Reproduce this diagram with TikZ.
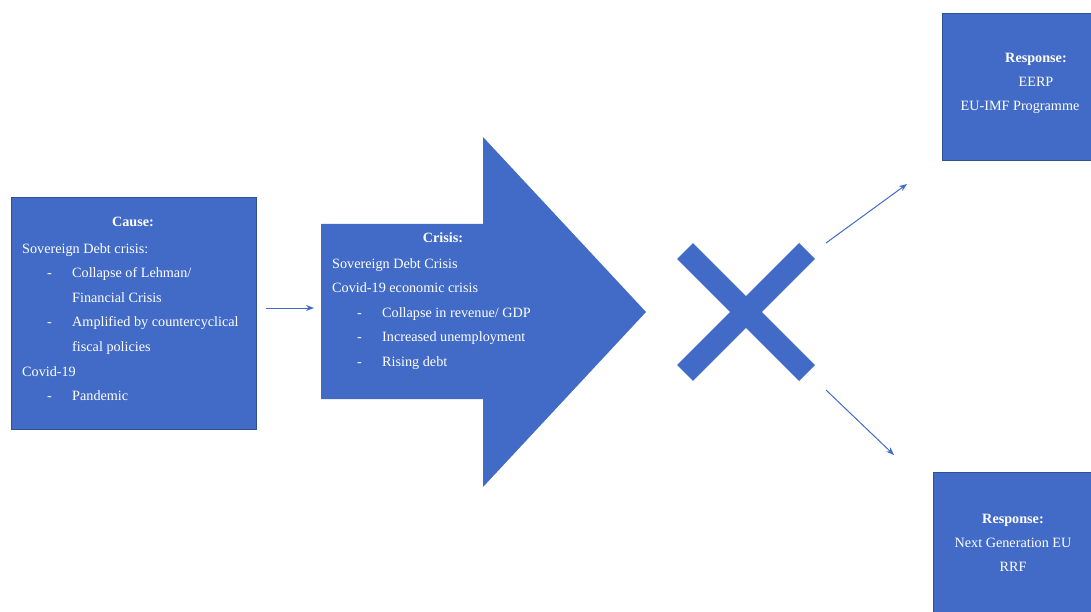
\documentclass[tikz,border=0pt]{standalone}
\usepackage{fontspec}
\setmainfont{Liberation Serif}
\usetikzlibrary{arrows.meta}
\definecolor{boxblue}{RGB}{66,107,199}
\definecolor{edgeblue}{RGB}{47,82,143}
\tikzset{
  bluebox/.style={fill=boxblue,draw=edgeblue,line width=0.8pt},
  txt/.style={text=white,inner sep=0pt,anchor=base west,font=\fontsize{14.2}{17}\selectfont},
  ctxt/.style={txt,anchor=base},
  htxt/.style={ctxt,font=\fontsize{14.2}{17}\selectfont\bfseries},
  conn/.style={draw=boxblue,line width=1pt,-{Stealth[length=8pt,width=6pt]}},
  cross/.style={draw=boxblue,line width=22.6pt}
}
\begin{document}
\begin{tikzpicture}[x=1pt,y=-1pt]
\useasboundingbox (0,0) rectangle (1091,612);
% Cause box
\path[bluebox] (11,197) rectangle (256,429);
\node[htxt] (causeT) at (133,226) {Cause:};
\node[txt] (c1) at (22,253) {Sovereign Debt crisis:};
\node[txt] (c2d) at (47,277.6) {-};
\node[txt] (c2) at (72,277.6) {Collapse of Lehman/};
\node[txt] (c3) at (72,302.2) {Financial Crisis};
\node[txt] (c4d) at (47,326.8) {-};
\node[txt] (c4) at (72,326.8) {Amplified by countercyclical};
\node[txt] (c5) at (72,351.4) {fiscal policies};
\node[txt] (c6) at (22,376) {Covid-19};
\node[txt] (c7d) at (47,400.6) {-};
\node[txt] (c7) at (72,400.6) {Pandemic};
% connector
\coordinate (a1) at (266,308);
\coordinate (a2) at (314,308);
\draw[conn] (a1) -- (a2);
% Big arrow
\path[fill=boxblue] (321,224) -- (483,224) -- (483,137) -- (646,312) -- (483,487) -- (483,399) -- (321,399) -- cycle;
\node[htxt] (crisisT) at (443,243) {Crisis:};
\node[txt] (k1) at (332,268) {Sovereign Debt Crisis};
\node[txt] (k2) at (332,292.6) {Covid-19 economic crisis};
\node[txt] (k3d) at (357,317.2) {-};
\node[txt] (k3) at (382,317.2) {Collapse in revenue/ GDP};
\node[txt] (k4d) at (357,341.8) {-};
\node[txt] (k4) at (382,341.8) {Increased unemployment};
\node[txt] (k5d) at (357,366.4) {-};
\node[txt] (k5) at (382,366.4) {Rising debt};
% Cross
\draw[cross] (685,251) -- (807,373);
\draw[cross] (807,251) -- (685,373);
\coordinate (u1) at (826,243);
\coordinate (u2) at (907,184);
\coordinate (d1) at (826,390);
\coordinate (d2) at (894,455);
\draw[conn] (u1) -- (u2);
\draw[conn] (d1) -- (d2);
% Response boxes
\path[bluebox] (942,13) rectangle (1110,160);
\node[htxt] (r1T) at (1036,63) {Response:};
\node[ctxt] (r1a) at (1036,87) {EERP};
\node[ctxt] (r1b) at (1020,111) {EU-IMF Programme};
\path[bluebox] (933,472) rectangle (1110,630);
\node[htxt] (r2T) at (1013,523) {Response:};
\node[ctxt] (r2a) at (1013,547) {Next Generation EU};
\node[ctxt] (r2b) at (1013,571) {RRF};
\end{tikzpicture}
\end{document}
